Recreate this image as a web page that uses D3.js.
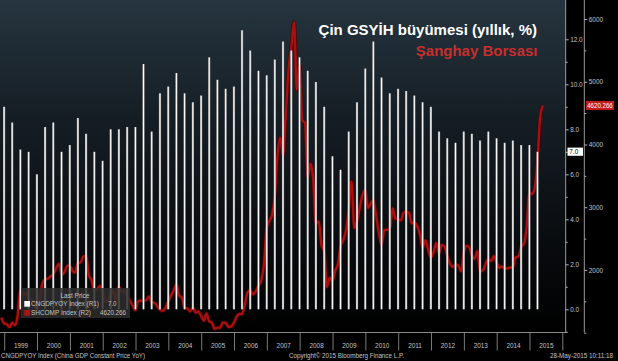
<!DOCTYPE html>
<html><head><meta charset="utf-8">
<script src="https://cdn.jsdelivr.net/npm/d3@7"></script>
<style>html,body{margin:0;padding:0;background:#000;}svg{display:block}</style>
</head><body>
<svg id="c" width="618" height="361"></svg>
<script>
// ---------- DATA ----------
const gdpQuarters = ["1998Q4",
 "1999Q1","1999Q2","1999Q3","1999Q4","2000Q1","2000Q2","2000Q3","2000Q4",
 "2001Q1","2001Q2","2001Q3","2001Q4","2002Q1","2002Q2","2002Q3","2002Q4",
 "2003Q1","2003Q2","2003Q3","2003Q4","2004Q1","2004Q2","2004Q3","2004Q4",
 "2005Q1","2005Q2","2005Q3","2005Q4","2006Q1","2006Q2","2006Q3","2006Q4",
 "2007Q1","2007Q2","2007Q3","2007Q4","2008Q1","2008Q2","2008Q3","2008Q4",
 "2009Q1","2009Q2","2009Q3","2009Q4","2010Q1","2010Q2","2010Q3","2010Q4",
 "2011Q1","2011Q2","2011Q3","2011Q4","2012Q1","2012Q2","2012Q3","2012Q4",
 "2013Q1","2013Q2","2013Q3","2013Q4","2014Q1","2014Q2","2014Q3","2014Q4",
 "2015Q1"];
const gdpValues = [9.0,
 8.3,7.1,7.0,6.0, 8.1,8.3,7.0,7.3, 8.5,7.8,7.0,6.6, 8.0,8.0,8.1,8.1,
 10.9,7.9,9.6,9.9, 10.5,9.6,9.2,9.5, 11.2,10.2,9.8,9.9, 12.4,11.5,10.6,10.4,
 11.1,11.9,11.5,11.2, 10.6,10.1,9.0,6.8, 6.2,7.9,9.2,10.7, 11.9,10.3,9.6,9.8,
 9.7,9.5,9.2,9.0, 7.9,7.6,7.4,7.9, 7.8,7.5,7.9,7.6, 7.4,7.5,7.3,7.3,
 7.0];
// SHCOMP monthly closes, first month = Nov 1998
const shStartMonth = "1998-11";
const shValues = [1240,1147,
 1134,1090,1158,1120,1279,1689,1601,1627,1556,1532,1434,1367,
 1535,1780,1850,1860,1900,1930,2020,2100,1930,1960,2060,2073,
 1985,1960,2112,2120,2214,2218,1920,1834,1660,1690,1747,1646,
 1491,1524,1603,1662,1516,1732,1651,1669,1581,1507,1436,1357,
 1500,1512,1510,1521,1576,1487,1476,1421,1367,1348,1397,1497,
 1590,1675,1770,1595,1555,1399,1386,1342,1396,1320,1340,1266,
 1191,1306,1181,1159,1060,1080,1083,1162,1155,1092,1099,1161,
 1258,1299,1298,1440,1641,1672,1612,1658,1752,1837,2099,2675,
 2786,2881,3183,3841,4109,3820,4471,5218,5552,5954,4871,5262,
 4383,4348,3473,3693,3433,2736,2776,2397,2293,1729,1871,1821,
 1991,2082,2373,2477,2633,2959,3412,2667,2779,2996,3195,3277,
 2989,3052,3110,2871,2592,2398,2638,2639,2656,2979,2820,2808,
 2790,2905,2928,2911,2743,2762,2701,2568,2359,2469,2333,2199,
 2292,2429,2263,2397,2373,2225,2103,2047,2086,2069,1980,2269,
 2385,2366,2237,2178,2301,1979,1994,2098,2175,2142,2220,2116,
 2033,2056,2033,2026,2039,2048,2202,2217,2364,2420,2683,3235,
 3210,3310,3748,4442,4620.266];
const yearLabels = [1999,2000,2001,2002,2003,2004,2005,2006,2007,2008,2009,2010,2011,2012,2013,2014,2015];
const r1Ticks = [0,2,4,6,8,10,12];
const r1Minor = [-1,1,3,5,7,9,11];
const r2Ticks = [2000,3000,4000,5000,6000];
const r2Minor = [1000,1500,2500,3500,4500,5500];
const titleText = "Çin GSYİH büyümesi (yıllık, %)";
const subtitleText = "Şanghay Borsası";
const legendRows = [
  {name:"CNGDPYOY Index  (R1)", value:"7.0", color:"#ffffff"},
  {name:"SHCOMP Index  (R2)", value:"4620.266", color:"#b01212"}
];
const footerLeft = "CNGDPYOY Index (China GDP Constant Price YoY)";
const footerMid = "Copyright\u00A9 2015 Bloomberg Finance L.P.";
const footerRight = "28-May-2015 10:11:18";

// ---------- LAYOUT ----------
const W = 618, H = 361;
const plotR = 566, plotB = 332.5;
const FONT = "'Liberation Sans', Arial, sans-serif";
const LBL = "#c4c4c4";

const svg = d3.select("#c");
const defs = svg.append("defs");

const bg = defs.append("linearGradient").attr("id","bg").attr("x1",0).attr("y1",0).attr("x2",0).attr("y2",1);
[[0,"#26353f"],[0.36,"#151d24"],[0.72,"#090c0f"],[1,"#000000"]].forEach(s=>bg.append("stop").attr("offset",s[0]).attr("stop-color",s[1]));
const bg2 = defs.append("linearGradient").attr("id","barg").attr("x1",0).attr("y1",0).attr("x2",1).attr("y2",0);
[[0,"#9a9a9a"],[0.5,"#ffffff"],[1,"#8c8c8c"]].forEach(s=>bg2.append("stop").attr("offset",s[0]).attr("stop-color",s[1]));
defs.append("clipPath").attr("id","clip").append("rect").attr("x",0).attr("y",0).attr("width",plotR).attr("height",plotB);

svg.append("rect").attr("width",W).attr("height",H).attr("fill","#000");
svg.append("rect").attr("x",0).attr("y",0).attr("width",plotR).attr("height",plotB).attr("fill","url(#bg)");

// scales
const x = d3.scaleTime().domain([new Date(1999,0,1), new Date(2016,0,1)]).range([4.2, 562.3]);
const yR1 = d3.scaleLinear().domain([-1,13]).range([331.8, 16.8]);
const yR2 = d3.scaleLinear().domain([1000,6000]).range([332.7, 19]);

const qDate = s => new Date(+s.slice(0,4), +s.slice(5)*3, 0);
const gdp = gdpQuarters.map((q,i)=>({date:qDate(q), v:gdpValues[i]}));
const m0 = d3.timeParse("%Y-%m")(shStartMonth);
const sh = shValues.map((v,i)=>({date: d3.timeDay.offset(d3.timeMonth.offset(m0, i+1), -1), v}));

const plot = svg.append("g").attr("clip-path","url(#clip)");

// SHCOMP line
const line = d3.line().x(d=>x(d.date)).y(d=>yR2(d.v)).curve(d3.curveMonotoneX);
plot.append("path").datum(sh).attr("d",line).attr("fill","none")
  .attr("stroke","#4a0000").attr("stroke-width",4).attr("stroke-opacity",0.7).attr("stroke-linejoin","round");
plot.append("path").datum(sh).attr("d",line).attr("fill","none")
  .attr("stroke","#aa0e0e").attr("stroke-width",2.4).attr("stroke-linejoin","round");

// GDP bars
plot.selectAll("rect.bar").data(gdp).join("rect").attr("class","bar")
  .attr("x",d=>x(d.date)-1.1).attr("width",2.2)
  .attr("y",d=>yR1(d.v)).attr("height",d=>yR1(0)-yR1(d.v))
  .attr("fill","url(#barg)");

// legend box
const lg = svg.append("g");
lg.append("rect").attr("x",21).attr("y",288).attr("width",109).attr("height",30).attr("fill","#2e2e2e").attr("fill-opacity",0.85);
lg.append("text").attr("x",60.5).attr("y",297.5).attr("font-family",FONT).attr("font-size",6.5).attr("fill",LBL).text("Last Price");
legendRows.forEach((r,i)=>{
  const yy = 306.3 + i*9;
  lg.append("rect").attr("x",24.3).attr("y",yy-5.3).attr("width",5.7).attr("height",5.7).attr("fill",r.color);
  lg.append("text").attr("x",31).attr("y",yy).attr("font-family",FONT).attr("font-size",6.5).attr("fill",LBL)
    .attr("textLength", i===0?68:60).attr("lengthAdjust","spacingAndGlyphs").text(r.name);
  lg.append("text").attr("x", i===0?108:100).attr("y",yy).attr("font-family",FONT).attr("font-size",6.5).attr("fill",LBL)
    .attr("textLength", i===0?8.5:26).attr("lengthAdjust","spacingAndGlyphs").text(r.value);
});

// x axis
svg.append("line").attr("x1",0).attr("x2",plotR).attr("y1",plotB).attr("y2",plotB).attr("stroke","#8a8a8a").attr("stroke-width",1);
const sepAxis = d3.axisBottom(x).tickValues(yearLabels.concat([2016]).map(y=>new Date(y,0,1))).tickSize(18).tickFormat("");
const gSep = svg.append("g").attr("transform",`translate(0,${plotB})`).call(sepAxis);
gSep.select(".domain").remove();
gSep.selectAll("line").attr("stroke","#7a7a7a");
const lblAxis = d3.axisBottom(x).tickValues(yearLabels.map(y=>new Date(y,6,2))).tickSize(0).tickFormat(d3.timeFormat("%Y"));
const gLbl = svg.append("g").attr("transform",`translate(0,${plotB+8})`).call(lblAxis);
gLbl.select(".domain").remove();
gLbl.selectAll("text").attr("font-family",FONT).attr("font-size",6.4).attr("fill",LBL);

// right axis R1
svg.append("line").attr("x1",565.7).attr("x2",565.7).attr("y1",0).attr("y2",plotB).attr("stroke","#9a9a9a");
const r1 = d3.axisRight(yR1).tickValues(r1Ticks).tickSize(3).tickPadding(1.5).tickFormat(d3.format(".1f"));
const gR1 = svg.append("g").attr("transform","translate(565.7,0)").call(r1);
const r1m = d3.axisRight(yR1).tickValues(r1Minor).tickSize(2).tickFormat("");
const gR1m = svg.append("g").attr("transform","translate(565.7,0)").call(r1m);
// right axis R2
svg.append("line").attr("x1",584.3).attr("x2",584.3).attr("y1",0).attr("y2",plotB).attr("stroke","#9a9a9a");
const r2 = d3.axisRight(yR2).tickValues(r2Ticks).tickSize(3).tickPadding(1.5).tickFormat(d3.format("d"));
const gR2 = svg.append("g").attr("transform","translate(584.3,0)").call(r2);
const r2m = d3.axisRight(yR2).tickValues(r2Minor).tickSize(2).tickFormat("");
const gR2m = svg.append("g").attr("transform","translate(584.3,0)").call(r2m);
[gR1,gR1m,gR2,gR2m].forEach(g=>{
  g.select(".domain").remove();
  g.selectAll("line").attr("stroke","#b0b0b0");
  g.selectAll("text").attr("font-family",FONT).attr("font-size",6.4).attr("fill",LBL);
});

// last value tags
const lastG = gdpValues[gdpValues.length-1], lastS = shValues[shValues.length-1];
svg.append("rect").attr("x",567.5).attr("y",yR1(lastG)-4.2).attr("width",15.5).attr("height",8.2).attr("fill","#ffffff");
svg.append("text").attr("x",569.3).attr("y",yR1(lastG)+2.3).attr("font-family",FONT).attr("font-size",6.4).attr("fill","#000").text(d3.format(".1f")(lastG));
svg.append("rect").attr("x",586).attr("y",yR2(lastS)-4.6).attr("width",28).attr("height",9).attr("fill","#c41a1a");
svg.append("text").attr("x",587.2).attr("y",yR2(lastS)+2.3).attr("font-family",FONT).attr("font-size",6.4).attr("fill","#fff")
  .attr("textLength",25.6).attr("lengthAdjust","spacingAndGlyphs").text(d3.format(".3f")(lastS));

// titles
svg.append("text").attr("x",537).attr("y",34.5).attr("text-anchor","end").attr("font-family",FONT).attr("font-weight","bold")
  .attr("font-size",15).attr("fill","#ffffff").text(titleText);
svg.append("text").attr("x",537.5).attr("y",56).attr("text-anchor","end").attr("font-family",FONT).attr("font-weight","bold")
  .attr("font-size",15).attr("fill","#c62f2d").text(subtitleText);

// footer
svg.append("text").attr("x",1).attr("y",358).attr("font-family",FONT).attr("font-size",6.5).attr("fill",LBL)
  .attr("textLength",144).attr("lengthAdjust","spacingAndGlyphs").text(footerLeft);
svg.append("text").attr("x",289).attr("y",358).attr("font-family",FONT).attr("font-size",6.5).attr("fill",LBL)
  .attr("textLength",115).attr("lengthAdjust","spacingAndGlyphs").text(footerMid);
svg.append("text").attr("x",550).attr("y",358).attr("font-family",FONT).attr("font-size",6.5).attr("fill",LBL)
  .attr("textLength",63).attr("lengthAdjust","spacingAndGlyphs").text(footerRight);
</script>
</body></html>
